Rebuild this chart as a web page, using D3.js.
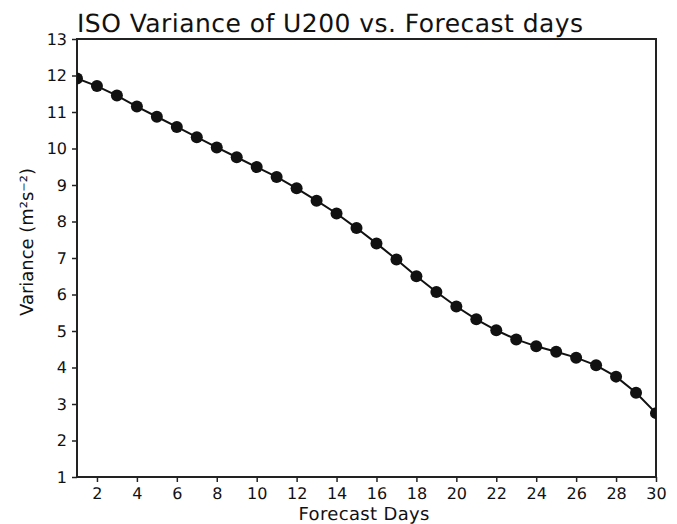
<!DOCTYPE html>
<html>
<head>
<meta charset="utf-8">
<script src="https://cdn.jsdelivr.net/npm/d3@7"></script>
<style>
  html, body { margin: 0; padding: 0; background: #fff; }
  svg text { font-family: "DejaVu Sans", sans-serif; fill: #111; text-rendering: geometricPrecision; }
</style>
</head>
<body>
<div id="chart"></div>
<script>
// Forecast lead time (days) and the ISO variance of U200 at each lead
const days = d3.range(1, 31);
const variance = [
  11.92, 11.71, 11.45, 11.15, 10.87, 10.59, 10.31, 10.03, 9.76, 9.49,
  9.22, 8.91, 8.57, 8.22, 7.82, 7.40, 6.96, 6.50, 6.07, 5.67,
  5.32, 5.02, 4.77, 4.58, 4.43, 4.27, 4.06, 3.75, 3.31, 2.75
];
const xTicks = d3.range(2, 31, 2);
const yTicks = d3.range(1, 14, 1);

const titleText = "ISO Variance of U200 vs. Forecast days";
const xLabel = "Forecast Days";
const yLabel = "Variance (m\u00B2s\u207B\u00B2)";

const W = 677, H = 524;
const margin = { left: 77, right: 21, top: 39, bottom: 47 };

const svg = d3.select("#chart").append("svg")
  .attr("width", W).attr("height", H);

const x = d3.scaleLinear().domain([1, 30]).range([margin.left, W - margin.right]);
const y = d3.scaleLinear().domain([1, 13]).range([H - margin.bottom, margin.top]);

const axisColor = "#222";

// x axis
const gx = svg.append("g")
  .attr("transform", `translate(0,${H - margin.bottom})`)
  .call(d3.axisBottom(x).tickValues(xTicks).tickSize(5).tickPadding(6).tickFormat(d3.format("d")));
gx.select(".domain").remove();
gx.selectAll(".tick line").attr("stroke", axisColor).attr("stroke-width", 1.5);
gx.selectAll(".tick text").attr("font-size", 16);

// y axis
const gy = svg.append("g")
  .attr("transform", `translate(${margin.left},0)`)
  .call(d3.axisLeft(y).tickValues(yTicks).tickSize(5).tickPadding(5).tickFormat(d3.format("d")));
gy.select(".domain").remove();
gy.selectAll(".tick line").attr("stroke", axisColor).attr("stroke-width", 1.5);
gy.selectAll(".tick text").attr("font-size", 16);

// frame around the plot area
svg.append("rect")
  .attr("x", margin.left).attr("y", margin.top)
  .attr("width", W - margin.left - margin.right)
  .attr("height", H - margin.top - margin.bottom)
  .attr("fill", "none").attr("stroke", axisColor).attr("stroke-width", 2);

// clip so the end markers are cut at the frame
svg.append("clipPath").attr("id", "plotClip")
  .append("rect")
  .attr("x", margin.left).attr("y", margin.top)
  .attr("width", W - margin.left - margin.right)
  .attr("height", H - margin.top - margin.bottom);

const pts = days.map((d, i) => [d, variance[i]]);
const plot = svg.append("g").attr("clip-path", "url(#plotClip)");

plot.append("path")
  .datum(pts)
  .attr("fill", "none")
  .attr("stroke", "#111")
  .attr("stroke-width", 2)
  .attr("d", d3.line().x(d => x(d[0])).y(d => y(d[1])));

plot.selectAll("circle")
  .data(pts)
  .enter().append("circle")
  .attr("cx", d => x(d[0]))
  .attr("cy", d => y(d[1]))
  .attr("r", 6)
  .attr("fill", "#111");

// title
svg.append("text")
  .attr("x", 77).attr("y", 32)
  .attr("font-size", 25)
  .attr("textLength", 506).attr("lengthAdjust", "spacing")
  .text(titleText);

// x axis title
svg.append("text")
  .attr("x", 364).attr("y", 520)
  .attr("text-anchor", "middle")
  .attr("font-size", 18)
  .attr("textLength", 131).attr("lengthAdjust", "spacing")
  .text(xLabel);

// y axis title
svg.append("text")
  .attr("transform", "translate(33,242) rotate(-90)")
  .attr("text-anchor", "middle")
  .attr("font-size", 18)
  .attr("textLength", 148).attr("lengthAdjust", "spacing")
  .text(yLabel);
</script>
</body>
</html>
